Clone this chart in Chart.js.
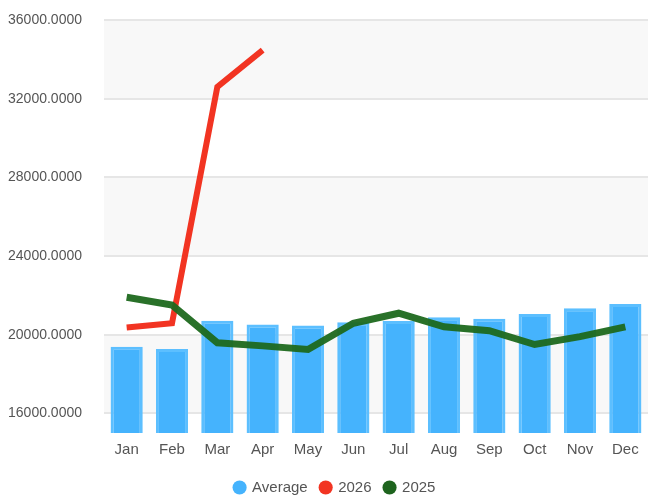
<!DOCTYPE html>
<html>
<head>
<meta charset="utf-8">
<script src="https://cdn.jsdelivr.net/npm/chart.js@4"></script>
<style>
  html, body { margin: 0; padding: 0; background: #fff; }
  #wrap { width: 654px; height: 500px; }
</style>
</head>
<body>
<div id="wrap"><canvas id="chart"></canvas></div>
<script>
// Données
const months = ["Jan", "Feb", "Mar", "Apr", "May", "Jun", "Jul", "Aug", "Sep", "Oct", "Nov", "Dec"];
const averageValues = [19390, 19270, 20710, 20520, 20460, 20630, 20700, 20880, 20810, 21050, 21340, 21560];
const values2026 = [20360, 20580, 32600, 34470];
const values2025 = [21900, 21510, 19590, 19430, 19250, 20580, 21090, 20400, 20200, 19500, 19900, 20400];
const yTicks = [16000, 20000, 24000, 28000, 32000, 36000];

const font = { family: "Liberation Sans, Arial, sans-serif", size: 14 };

// Bandes alternées derrière la grille + décalage de la légende
const bandPlugin = {
  id: "bands",
  afterLayout(chart) {
    chart.legend.left += 11;
    chart.legend.right += 11;
  },
  beforeDraw(chart) {
    const { ctx, chartArea, scales } = chart;
    const y = scales.y;
    ctx.save();
    ctx.fillStyle = "#f8f8f8";
    for (let i = yTicks.length - 1; i > 0; i -= 2) {
      const top = y.getPixelForValue(yTicks[i]);
      const bottom = y.getPixelForValue(yTicks[i - 1]);
      ctx.fillRect(chartArea.left, top, chartArea.right - chartArea.left, bottom - top);
    }
    ctx.restore();
  },
};

new Chart(document.getElementById("chart").getContext("2d"), {
  type: "bar",
  data: {
    labels: months,
    datasets: [
      {
        label: "Average",
        data: averageValues,
        backgroundColor: "#45b3fd",
        borderColor: "#5cbfff",
        borderWidth: 3,
        categoryPercentage: 1,
        barPercentage: 0.71,
        order: 3,
      },
      {
        type: "line",
        label: "2026",
        data: values2026,
        borderColor: "#f23422",
        backgroundColor: "#f23422",
        borderWidth: 6,
        pointRadius: 0,
        tension: 0,
        order: 2,
      },
      {
        type: "line",
        label: "2025",
        data: values2025,
        borderColor: "rgba(30,105,30,0.95)",
        backgroundColor: "#1e641e",
        borderWidth: 7,
        pointRadius: 0,
        tension: 0,
        order: 1,
      },
    ],
  },
  options: {
    responsive: true,
    maintainAspectRatio: false,
    animation: false,
    layout: { padding: { top: 20, right: 6, left: 0, bottom: -5 } },
    plugins: {
      legend: {
        position: "bottom",
        labels: {
          usePointStyle: true,
          pointStyle: "circle",
          boxWidth: 10,
          boxHeight: 10,
          padding: 13,
          color: "#555",
          font: { ...font, size: 15 },
          sort: (a, b) => a.datasetIndex - b.datasetIndex,
          generateLabels: (chart) =>
            Chart.defaults.plugins.legend.labels
              .generateLabels(chart)
              .map((item) => ({ ...item, lineWidth: 0 })),
        },
      },
      tooltip: { enabled: false },
    },
    scales: {
      x: {
        grid: { display: false, drawTicks: false },
        border: { display: false },
        ticks: { color: "#555", padding: 8, font: { ...font, size: 15 } },
      },
      y: {
        min: 15000,
        max: 36000,
        afterBuildTicks: (axis) => {
          axis.ticks = yTicks.map((v) => ({ value: v }));
        },
        afterFit: (axis) => {
          axis.width = 104;
          axis.paddingTop = 0;
          axis.paddingBottom = 0;
        },
        grid: { color: "#e6e6e6", lineWidth: 2, drawTicks: false },
        border: { display: false },
        ticks: {
          color: "#555",
          padding: 22,
          font: font,
          callback: (v) => Number(v).toFixed(4),
        },
      },
    },
  },
  plugins: [bandPlugin],
});
</script>
</body>
</html>
